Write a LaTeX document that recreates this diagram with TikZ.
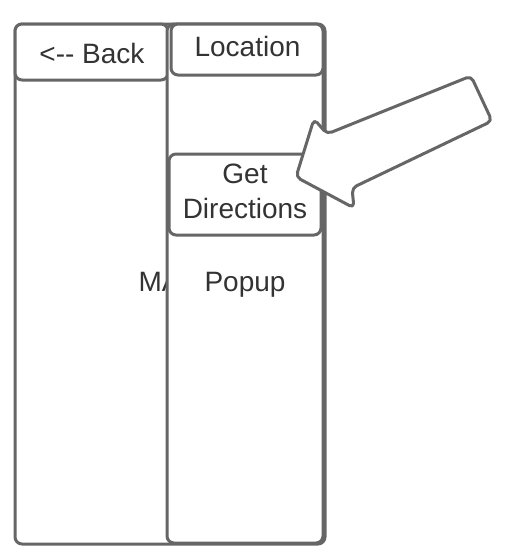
\documentclass[tikz,border=0pt]{standalone}
\usepackage{fontspec}
\setmainfont{Liberation Sans}
\definecolor{ln}{RGB}{102,102,102}
\definecolor{tx}{RGB}{51,51,51}
\begin{document}
\begin{tikzpicture}[x=1pt,y=-1pt,
  panel/.style={draw=ln, line width=3pt, fill=white, rounded corners=7pt, inner sep=0pt, outer sep=0pt},
  lbl/.style={text=tx, font=\fontsize{28}{31}\selectfont, anchor=base, inner sep=0pt},
  bigarrow/.style={draw=ln, line width=3pt, fill=white, rounded corners=5pt, line join=round}]
\useasboundingbox (0,0) rectangle (520,554);
% map screen
\node[panel, minimum width=310pt, minimum height=520pt] (map) at (170,284) {};
\node[lbl] (maptext) at (169,291) {MAP};
\node[panel, minimum width=153pt, minimum height=56pt] (back) at (91.5,52) {};
\node[lbl] (backtext) at (92,63) {<-\kern0pt- Back};
% popup
\node[panel, minimum width=156pt, minimum height=519pt] (popup) at (245,283.5) {};
\node[panel, minimum width=152pt, minimum height=51pt] (loc) at (247,49.5) {};
\node[lbl] (loctext) at (247.5,56.7) {Location};
\node[panel, minimum width=152pt, minimum height=81pt] (dir) at (245,194.5) {};
\node[lbl] (gettext) at (245,183) {Get};
\node[lbl] (dirtext) at (245,218) {Directions};
\node[lbl] (poptext) at (245,291) {Popup};
% block arrow
\draw[bigarrow] (296,177) -- (314,119) -- (327,134) -- (471,76) -- (492,121) -- (352,188) -- (354,208) -- cycle;
\end{tikzpicture}
\end{document}
